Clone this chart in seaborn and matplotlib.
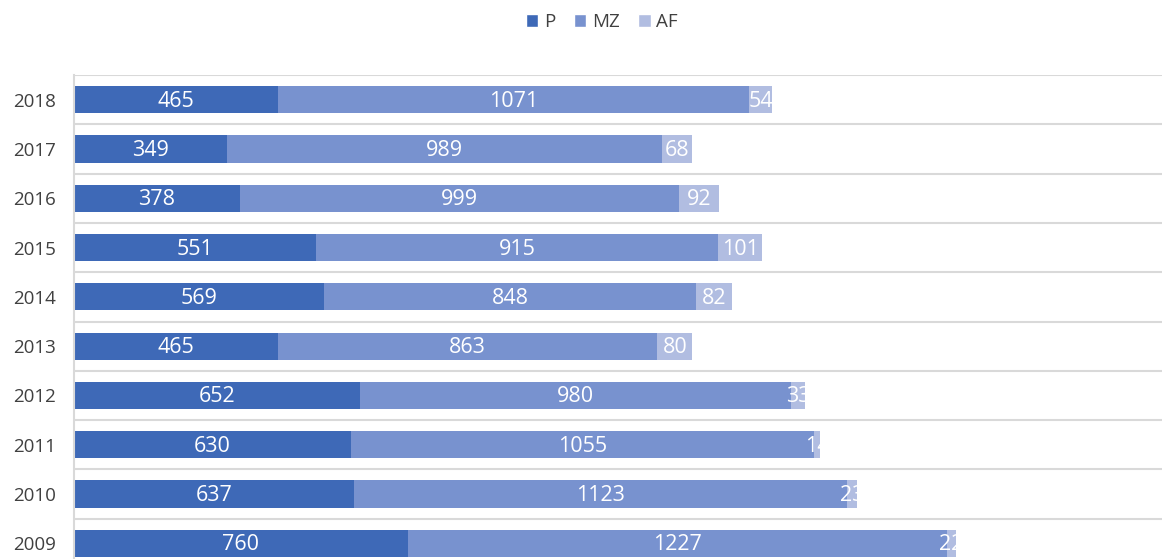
import matplotlib
matplotlib.use("Agg")
import matplotlib.pyplot as plt
import seaborn as sns
import numpy as np
import pandas as pd
from matplotlib.patches import Patch

years = [2018, 2017, 2016, 2015, 2014, 2013, 2012, 2011, 2010, 2009]
p_vals = [465, 349, 378, 551, 569, 465, 652, 630, 637, 760]
mz_vals = [1071, 989, 999, 915, 848, 863, 980, 1055, 1123, 1227]
af_vals = [54, 68, 92, 101, 82, 80, 33, 14, 23, 22]

series = ["P", "MZ", "AF"]
colors = {"P": "#3E69B7", "MZ": "#7892CF", "AF": "#B1BDE1"}

sns.set_style("white")
plt.rcParams["font.family"] = ["Open Sans", "DejaVu Sans"]

df = pd.DataFrame({"year": [str(y) for y in years], "P": p_vals, "MZ": mz_vals, "AF": af_vals})
df["cum_P"] = df["P"]
df["cum_MZ"] = df["P"] + df["MZ"]
df["cum_AF"] = df["P"] + df["MZ"] + df["AF"]
order = df["year"].tolist()

fig = plt.figure(figsize=(11.62, 5.59), dpi=100)
# axes run past the bottom edge, like the cropped original
ax = fig.add_axes([74 / 1162, -9 / 559, 1098 / 1162, 493 / 559])

# stacked bars: draw totals first, then overlay the shorter cumulative sums
for s in ["AF", "MZ", "P"]:
    sns.barplot(data=df, y="year", x="cum_" + s, order=order, orient="h",
                color=colors[s], saturation=1, width=0.55, linewidth=0, ax=ax)

# segment labels
for i, row in df.iterrows():
    start = 0
    for s in series:
        v = row[s]
        ax.text(start + v / 2, i + 0.03, str(v), ha="center", va="center",
                color="white", fontsize=15.5)
        start += v

ax.set_xlim(0, 2500)
ax.set_ylim(len(years) - 0.5, -0.5)
ax.set_xlabel("")
ax.set_ylabel("")
ax.set_xticks([])
ax.set_yticks(np.arange(-0.5, len(years), 1), minor=True)
ax.grid(which="minor", axis="y", color="#D9D9D9", linewidth=1.5)
ax.grid(which="major", visible=False)
ax.tick_params(axis="y", which="both", length=0, pad=13, labelsize=13.5, labelcolor="#404040")
for side in ["top", "right", "bottom"]:
    ax.spines[side].set_visible(False)
ax.spines["left"].set_color("#D9D9D9")
ax.spines["left"].set_linewidth(1.5)

handles = [Patch(facecolor=colors[s], label=s) for s in series]
fig.legend(handles=handles, loc="center", bbox_to_anchor=(602 / 1162, 1 - 22 / 559), ncol=3,
           frameon=False, fontsize=13.5, handlelength=0.65, handleheight=0.65,
           handletextpad=0.3, columnspacing=1.0, labelcolor="#404040")

fig.savefig("out.png", dpi=100)
